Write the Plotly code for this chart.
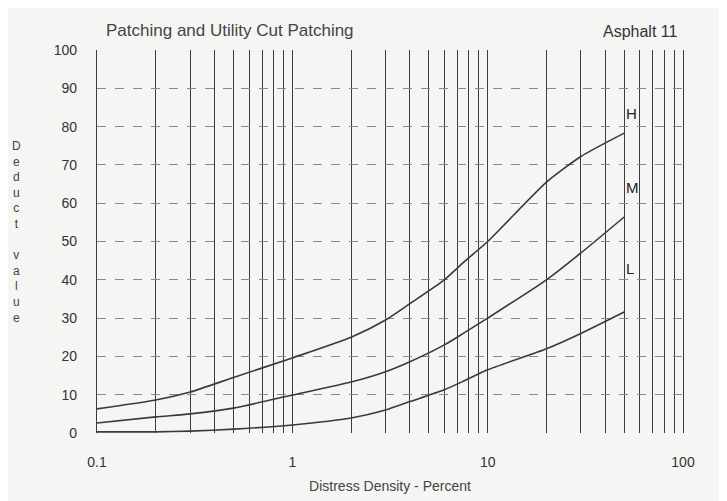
import plotly.graph_objects as go

# distress density (%) and deduct values
density = [0.1, 0.2, 0.3, 0.5, 1, 2, 3, 4, 6, 7.5, 10, 20, 30, 50]
high = [6.3, 8.6, 10.7, 14.5, 19.6, 25, 29.5, 33.8, 40, 44.5, 50, 65.5, 72.2, 78.3]
medium = [2.6, 4.2, 5, 6.5, 9.9, 13.3, 16, 18.6, 23, 26, 30, 40, 47, 56.4]
low = [0.3, 0.3, 0.5, 1, 2.1, 3.9, 6, 8.2, 11.3, 13.5, 16.5, 22, 26, 31.6]

curve_names = ['H', 'M', 'L']
label_y = [83.5, 64, 43]

grid_x = [m * 10 ** e for e in (-1, 0, 1) for m in range(1, 10)] + [100]
grid_text = [('%g' % v if v in (0.1, 1, 10, 100) else '') for v in grid_x]
yticks = list(range(0, 101, 10))

ink = '#3a3a3a'
fnt = 'Liberation Sans, Arial, sans-serif'

fig = go.Figure()
for vals in (high, medium, low):
    fig.add_trace(go.Scatter(x=density, y=vals, mode='lines',
                             line=dict(color=ink, width=1.6, shape='spline', smoothing=0.6),
                             showlegend=False, hoverinfo='skip'))

# H / M / L labels at the curve ends (x given in log10 units)
for name, yv in zip(curve_names, label_y):
    fig.add_annotation(x=1.70, y=yv, xref='x', yref='y', text=name,
                       showarrow=False, font=dict(size=15, color='#222', family=fnt),
                       xanchor='left')

fig.add_annotation(x=0.012, y=1.02, xref='paper', yref='paper', xanchor='left', yanchor='bottom',
                   text='Patching and Utility Cut Patching', showarrow=False,
                   font=dict(size=17, color='#444', family=fnt))
fig.add_annotation(x=0.995, y=1.02, xref='paper', yref='paper', xanchor='right', yanchor='bottom',
                   text='Asphalt 11', showarrow=False,
                   font=dict(size=16, color='#333', family=fnt))
fig.add_annotation(x=-0.137, y=0.525, xref='paper', yref='paper', xanchor='center', yanchor='middle',
                   text='<br>'.join(list('Deduct') + [''] + list('value')), showarrow=False,
                   font=dict(size=12, color='#444', family=fnt))

fig.update_layout(
    width=727, height=501,
    margin=dict(l=89, r=52, t=42, b=76),
    paper_bgcolor='#f5f5f3', plot_bgcolor='#f5f5f3',
    font=dict(family=fnt, color='#333', size=13),
    xaxis=dict(type='log', range=[-1, 2], tickvals=grid_x, ticktext=grid_text,
               showgrid=True, gridcolor='#3c3c3c', gridwidth=1.4, ticks='', zeroline=False,
               showline=False, tickfont=dict(size=14), ticklabelstandoff=19,
               title=dict(text='Distress Density - Percent', font=dict(size=14, color='#444'), standoff=12)),
    yaxis=dict(range=[0, 100], tickvals=yticks, showgrid=True, gridcolor='#8a8a8a',
               griddash='dash', gridwidth=1, zeroline=False, ticks='',
               showline=True, mirror=True, linecolor='#3c3c3c', linewidth=1.4,
               tickfont=dict(size=14), ticklabelstandoff=16),
)

fig.write_html("out.html")
